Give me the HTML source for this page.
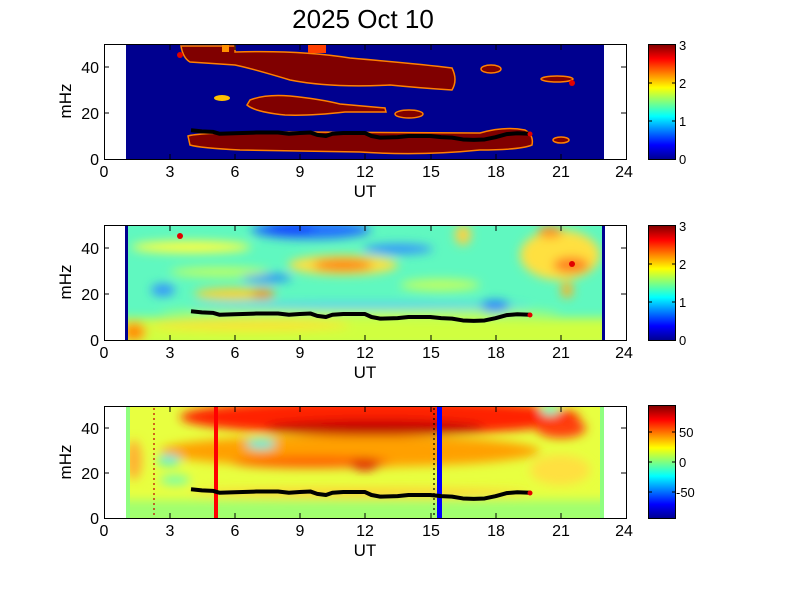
<!DOCTYPE html>
<html><head><meta charset="utf-8"><style>
body{margin:0;background:#fff;}
svg{display:block;font-family:"Liberation Sans",sans-serif;}
</style></head><body>
<svg width="801" height="600" viewBox="0 0 801 600" xmlns="http://www.w3.org/2000/svg">
<defs>
<linearGradient id="jet" x1="0" y1="1" x2="0" y2="0">
<stop offset="0" stop-color="#00008f"/><stop offset="0.125" stop-color="#0000ff"/>
<stop offset="0.375" stop-color="#00ffff"/><stop offset="0.625" stop-color="#ffff00"/>
<stop offset="0.875" stop-color="#ff0000"/><stop offset="1" stop-color="#800000"/>
</linearGradient>
<filter id="b" x="-50%" y="-50%" width="200%" height="200%"><feGaussianBlur stdDeviation="5"/></filter>
<clipPath id="c2"><rect x="126" y="225" width="478" height="115"/></clipPath>
<clipPath id="c3"><rect x="126" y="406" width="478" height="112"/></clipPath>
<polyline id="ridge" fill="none" stroke="#000" stroke-width="4" stroke-linejoin="round" points="191,-28.75 201.9,-27.6 212.8,-27.14 219.3,-25.3 234.5,-25.76 256.3,-26.45 278,-26.45 288.9,-25.3 299.8,-25.99 310.6,-26.45 317.2,-24.15 325.9,-23 332.4,-25.3 343.3,-25.99 365,-25.99 371.5,-23 380.2,-21.39 397.6,-21.85 408.5,-23 430.3,-23 441.1,-21.85 452,-21.39 462.9,-19.55 473.8,-19.09 484.6,-19.55 495.5,-21.85 506.4,-24.84 517.3,-25.76 530.3,-25.3"/>
</defs>

<text x="363" y="28" font-size="26" text-anchor="middle">2025 Oct 10</text>

<!-- Panel 1 -->
<rect x="126" y="44" width="478" height="115" fill="#00008f"/>
<g fill="#800000" stroke="#ff8000" stroke-width="1.5">
<path d="M181,46 L235,46 L235,52 Q300,50 350,58 Q420,64 452,68 Q458,80 452,90 Q420,88 390,85 Q330,88 290,80 Q250,68 235,65 L190,62 Q183,58 181,46 Z"/>
<path d="M250,100 Q265,94 290,96 Q320,99 340,104 L385,108 L386,112 L345,112 Q310,116 285,115 Q255,112 247,105 Z"/>
<path d="M188,136 Q200,132 300,132 L480,133 Q505,126 525,130 Q534,135 532,145 Q520,150 480,150 Q420,156 360,152 L240,150 Q200,148 190,145 Z"/>
<ellipse cx="409" cy="114" rx="14" ry="4"/>
<ellipse cx="491" cy="69" rx="10" ry="4"/>
<ellipse cx="557" cy="79" rx="16" ry="3"/>
<ellipse cx="561" cy="140" rx="8" ry="3"/>
</g>
<ellipse cx="222" cy="98" rx="8" ry="3" fill="#ffc000"/>
<rect x="222" y="44" width="7" height="8" fill="#ff9000"/>
<rect x="308" y="44" width="18" height="9" fill="#ff4000"/>
<circle cx="180" cy="55" r="3" fill="#e00000"/><circle cx="572" cy="83" r="3" fill="#e00000"/>
<use href="#ridge" transform="translate(0,159)"/>
<circle cx="530" cy="134" r="2.5" fill="#e00000"/>

<!-- Panel 2 -->
<g clip-path="url(#c2)">
<rect x="126" y="225" width="478" height="115" fill="#60f8c0"/>
<g filter="url(#b)">
<rect x="110" y="318" width="510" height="30" fill="#d0ff40"/>
<ellipse cx="360" cy="313" rx="200" ry="5" fill="#b0ff60"/>
<ellipse cx="191" cy="247" rx="60" ry="6" fill="#ffff40"/>
<ellipse cx="311" cy="230" rx="60" ry="9" fill="#2070ff"/>
<ellipse cx="290" cy="228" rx="25" ry="6" fill="#1040ff"/>
<ellipse cx="398" cy="249" rx="35" ry="5" fill="#3090ff"/>
<ellipse cx="343" cy="265" rx="55" ry="10" fill="#ffe040"/>
<ellipse cx="343" cy="265" rx="30" ry="6" fill="#ff8010"/>
<ellipse cx="267" cy="278" rx="25" ry="4" fill="#2080ff"/>
<ellipse cx="163" cy="290" rx="12" ry="6" fill="#3090ff"/>
<ellipse cx="234" cy="294" rx="40" ry="6" fill="#ffd030"/>
<ellipse cx="263" cy="294" rx="12" ry="5" fill="#ff9020"/>
<ellipse cx="360" cy="306" rx="170" ry="3" fill="#50c0ff"/>
<ellipse cx="495" cy="306" rx="15" ry="6" fill="#2080ff"/>
<ellipse cx="134" cy="332" rx="12" ry="10" fill="#ff9000"/>
<ellipse cx="560" cy="255" rx="40" ry="25" fill="#ffe040"/>
<ellipse cx="550" cy="232" rx="12" ry="6" fill="#ff9020"/>
<ellipse cx="571" cy="265" rx="18" ry="8" fill="#ff8020"/>
<ellipse cx="567" cy="290" rx="6" ry="8" fill="#ffb020"/>
<ellipse cx="463" cy="235" rx="8" ry="10" fill="#ffd040"/>
<ellipse cx="250" cy="325" rx="100" ry="5" fill="#ffe030"/>
<ellipse cx="220" cy="272" rx="50" ry="5" fill="#c0ff60"/>
<ellipse cx="440" cy="285" rx="40" ry="6" fill="#c0ff60"/>
</g>
</g>
<rect x="125" y="225" width="3" height="115" fill="#00008f"/>
<rect x="602" y="225" width="3" height="115" fill="#00008f"/>
<circle cx="180" cy="236" r="3" fill="#e00000"/><circle cx="572" cy="264" r="3" fill="#e00000"/>
<use href="#ridge" transform="translate(0,340)"/>
<circle cx="530" cy="315" r="2.5" fill="#e00000"/>

<!-- Panel 3 -->
<g clip-path="url(#c3)">
<rect x="126" y="406" width="478" height="112" fill="#e8ff40"/>
<g filter="url(#b)">
<ellipse cx="350" cy="451" rx="190" ry="16" fill="#ffa000"/>
<ellipse cx="380" cy="417" rx="200" ry="18" fill="#ff2000"/>
<ellipse cx="375" cy="428" rx="110" ry="8" fill="#c00000"/>
<ellipse cx="311" cy="462" rx="80" ry="6" fill="#ff6000"/>
<ellipse cx="365" cy="464" rx="15" ry="6" fill="#e01000"/>
<ellipse cx="261" cy="444" rx="15" ry="5" fill="#40f0e0"/>
<ellipse cx="169" cy="460" rx="12" ry="5" fill="#40f0e0"/>
<ellipse cx="175" cy="480" rx="15" ry="4" fill="#60ffc0"/>
<rect x="110" y="500" width="510" height="25" fill="#a0ff70"/>
<ellipse cx="360" cy="493" rx="170" ry="5" fill="#ffd030"/>
<ellipse cx="134" cy="460" rx="8" ry="20" fill="#ffb030"/>
<ellipse cx="561" cy="428" rx="25" ry="10" fill="#ff4010"/>
<ellipse cx="550" cy="410" rx="10" ry="5" fill="#60ffd0"/>
<ellipse cx="560" cy="470" rx="30" ry="15" fill="#ffe040"/>
</g>
<rect x="126" y="406" width="4" height="112" fill="#90ff80"/>
<rect x="600" y="406" width="4" height="112" fill="#90ff80"/>
</g>
<line x1="154" y1="408" x2="154" y2="516" stroke="#c00000" stroke-width="1.2" stroke-dasharray="2,3"/>
<line x1="434" y1="408" x2="434" y2="516" stroke="#000" stroke-width="1.2" stroke-dasharray="2,3"/>
<rect x="214" y="406" width="4" height="112" fill="#ff0000"/>
<rect x="437" y="406" width="5" height="112" fill="#0000ff"/>
<use href="#ridge" transform="translate(0,518)"/>
<circle cx="530" cy="493" r="2.5" fill="#e00000"/>

<!-- Axes frames & ticks -->
<g fill="none" stroke="#000" stroke-width="1">
<rect x="104.5" y="44.5" width="522" height="115"/>
<rect x="104.5" y="225.5" width="522" height="115"/>
<rect x="104.5" y="406.5" width="522" height="112"/>
<path d="M170,159v-5M235,159v-5M300,159v-5M365,159v-5M431,159v-5M496,159v-5M561,159v-5M170,45v5M235,45v5M300,45v5M365,45v5M431,45v5M496,45v5M561,45v5M104,113h5M104,67h5M626,113h-5M626,67h-5"/>
<path d="M170,340v-5M235,340v-5M300,340v-5M365,340v-5M431,340v-5M496,340v-5M561,340v-5M170,226v5M235,226v5M300,226v5M365,226v5M431,226v5M496,226v5M561,226v5M104,294h5M104,248h5M626,294h-5M626,248h-5"/>
<path d="M170,518v-5M235,518v-5M300,518v-5M365,518v-5M431,518v-5M496,518v-5M561,518v-5M170,407v5M235,407v5M300,407v5M365,407v5M431,407v5M496,407v5M561,407v5M104,473h5M104,428h5M626,473h-5M626,428h-5"/>
</g>

<!-- Tick labels -->
<g font-size="16" text-anchor="middle">
<g transform="translate(0,177)"><text x="104">0</text><text x="170">3</text><text x="235">6</text><text x="300">9</text><text x="365">12</text><text x="431">15</text><text x="496">18</text><text x="561">21</text><text x="624">24</text></g>
<g transform="translate(0,358)"><text x="104">0</text><text x="170">3</text><text x="235">6</text><text x="300">9</text><text x="365">12</text><text x="431">15</text><text x="496">18</text><text x="561">21</text><text x="624">24</text></g>
<g transform="translate(0,536)"><text x="104">0</text><text x="170">3</text><text x="235">6</text><text x="300">9</text><text x="365">12</text><text x="431">15</text><text x="496">18</text><text x="561">21</text><text x="624">24</text></g>
<text x="365" y="197" font-size="17">UT</text>
<text x="365" y="378" font-size="17">UT</text>
<text x="365" y="556" font-size="17">UT</text>
</g>
<g font-size="16" text-anchor="end">
<text x="99" y="165">0</text><text x="99" y="119">20</text><text x="99" y="73">40</text>
<text x="99" y="346">0</text><text x="99" y="300">20</text><text x="99" y="254">40</text>
<text x="99" y="524">0</text><text x="99" y="479">20</text><text x="99" y="434">40</text>
</g>
<g font-size="17" text-anchor="middle">
<text transform="translate(71,101) rotate(-90)">mHz</text>
<text transform="translate(71,282) rotate(-90)">mHz</text>
<text transform="translate(71,462) rotate(-90)">mHz</text>
</g>

<!-- Colorbars -->
<rect x="648.5" y="44.5" width="27" height="115" fill="url(#jet)" stroke="#000"/>
<rect x="648.5" y="225.5" width="27" height="115" fill="url(#jet)" stroke="#000"/>
<rect x="648.5" y="405.5" width="27" height="113" fill="url(#jet)" stroke="#000"/>
<g stroke="#000"><path d="M675,83h-3M675,121h-3M675,264h-3M675,302h-3M675,432h-3M675,462h-3M675,492h-3M649,83h3M649,121h3M649,264h3M649,302h3M649,432h3M649,462h3M649,492h3"/></g>
<g font-size="13">
<text x="679" y="50">3</text><text x="679" y="88">2</text><text x="679" y="126">1</text><text x="679" y="164">0</text>
<text x="679" y="231">3</text><text x="679" y="269">2</text><text x="679" y="307">1</text><text x="679" y="345">0</text>
<text x="679" y="437">50</text><text x="679" y="467">0</text><text x="676" y="497">-50</text>
</g>
</svg>
</body></html>
